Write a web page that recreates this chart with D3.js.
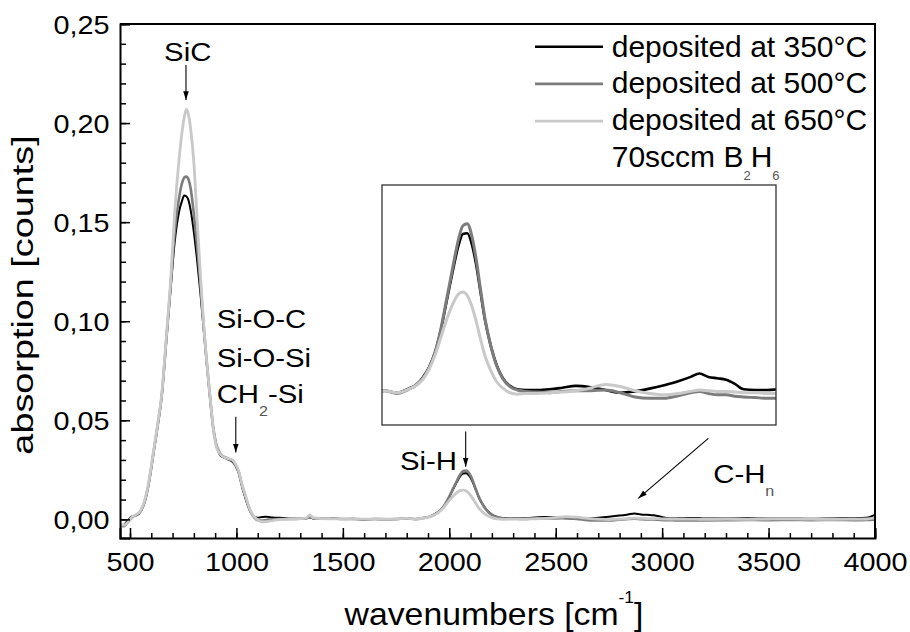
<!DOCTYPE html>
<html>
<head>
<meta charset="utf-8">
<script src="https://cdn.jsdelivr.net/npm/d3@7"></script>
<style>
html,body{margin:0;padding:0;background:#fff;}
svg{display:block;font-family:"Liberation Sans",Arial,Helvetica,sans-serif;}
</style>
</head>
<body>
<svg id="chart" width="910" height="632"></svg>
<script>
// ---------------- data ----------------
const wavenumbers = [
  453,470,490,510,530,550,570,590,
  610,630,650,670,690,710,730,745,755,765,775,785,
  800,815,830,845,860,875,890,905,920,935,950,965,980,995,1010,1025,1040,1055,1070,1085,
  1100,1120,1140,1170,1200,1250,1300,1330,1345,1360,1400,1450,1500,1550,1600,1650,1700,1750,1800,1840,1880,
  1910,1930,1950,1970,1990,2010,2030,2050,2065,2080,2095,2110,2125,2140,2160,2180,2200,2225,2250,
  2280,2320,2360,2400,2450,2500,2550,2600,2650,2700,2750,2800,2840,2870,2900,2930,2960,2990,3020,3060,3100,
  3150,3200,3300,3400,3500,3600,3700,3800,3900,3960,4000
];
const abs350 = [
  -0.0035,-0.003,-0.0005,0.0015,0.0020,0.0040,0.0090,0.0190,
  0.033,0.047,0.063,0.089,0.115,0.140,0.155,0.161,0.1635,0.163,0.161,0.156,
  0.145,0.131,0.115,0.097,0.079,0.062,0.047,0.0375,0.033,0.0315,0.0308,0.030,0.0292,0.0272,0.0235,0.017,0.0115,0.0065,0.003,0.0012,
  0.0008,0.0012,0.0013,0.0010,0.0008,0.0005,0.0003,0.0006,0.0010,0.0005,0.0004,0.0005,0.0002,0.0003,-0.0002,0.0002,0.0000,0.0001,0.0005,0.0002,0.0008,
  0.0015,0.0025,0.0039,0.0060,0.0093,0.0135,0.0177,0.0215,0.0232,0.0233,0.0218,0.0188,0.0148,0.0108,0.0070,0.0042,0.0024,0.0012,0.0007,
  0.0006,0.0006,0.0007,0.0009,0.0012,0.0010,0.0006,0.0002,0.0004,0.0008,0.0013,0.0019,0.0025,0.0030,0.0025,0.0023,0.0021,0.0015,0.0007,0.0006,0.0006,
  0.0007,0.0005,0.0004,0.0006,0.0004,0.0005,0.0003,0.0005,0.0006,0.0008,0.0022
];
const abs500 = [
  -0.003,-0.0035,-0.0015,0.0010,0.0022,0.0042,0.0095,0.0195,
  0.0335,0.0475,0.0635,0.090,0.117,0.145,0.162,0.170,0.1725,0.173,0.1715,0.167,
  0.154,0.138,0.120,0.099,0.080,0.063,0.047,0.038,0.034,0.032,0.0312,0.0305,0.0298,0.0278,0.0242,0.0178,0.0125,0.0072,0.0032,0.0008,
  -0.0004,-0.0006,-0.0003,0.0000,0.0002,0.0002,0.0003,0.0005,0.0012,0.0006,0.0003,0.0004,0.0002,0.0002,0.0000,0.0002,0.0001,0.0002,0.0005,0.0001,0.0007,
  0.0014,0.0024,0.0038,0.0060,0.0094,0.0138,0.0182,0.0224,0.0244,0.0247,0.0230,0.0196,0.0152,0.0110,0.0070,0.0041,0.0023,0.0011,0.0006,
  0.0004,0.0003,0.0002,0.0004,0.0005,0.0005,0.0006,0.0002,-0.0004,-0.0006,-0.0006,-0.0002,0.0002,0.0004,0.0001,-0.0001,-0.0001,-0.0003,-0.0004,-0.0005,-0.0006,
  -0.0006,-0.0005,-0.0004,-0.0003,-0.0004,-0.0003,-0.0004,-0.0003,-0.0004,-0.0003,0.0000
];
const abs650 = [
  -0.002,-0.003,-0.0015,0.0012,0.0025,0.0045,0.010,0.020,
  0.034,0.048,0.064,0.091,0.119,0.155,0.181,0.196,0.203,0.207,0.204,0.197,
  0.180,0.152,0.125,0.100,0.080,0.063,0.047,0.037,0.0335,0.0318,0.031,0.0305,0.030,0.028,0.0245,0.018,0.0128,0.0075,0.0035,0.0012,
  -0.0002,-0.0012,-0.0011,-0.0006,-0.0001,0.0002,0.0004,0.0008,0.0022,0.0009,0.0004,0.0003,0.0002,0.0003,0.0001,0.0002,0.0001,0.0002,0.0005,0.0002,0.0007,
  0.0014,0.0022,0.0036,0.0056,0.0082,0.0108,0.0130,0.0145,0.0148,0.0143,0.0128,0.0106,0.0080,0.0056,0.0034,0.0018,0.0009,0.0002,0.0000,
  0.0001,0.0001,0.0002,0.0003,0.0005,0.0009,0.0014,0.0011,0.0005,0.0001,-0.0001,0.0001,0.0004,0.0006,0.0005,0.0004,0.0004,0.0003,0.0002,0.0002,0.0001,
  0.0001,0.0000,0.0001,0.0000,0.0002,0.0003,0.0001,0.0000,0.0001,0.0002,0.0008
];
const seriesNames = ["deposited at 350°C", "deposited at 500°C", "deposited at 650°C"];
const seriesColors = ["#000000", "#7c7c7c", "#c9c9c9"];
const seriesWidths = [2, 2.6, 2.8];
const xTickValues = [500, 1000, 1500, 2000, 2500, 3000, 3500, 4000];
const yTickValues = [0, 0.05, 0.10, 0.15, 0.20, 0.25];
const annotations = [
  {pieces: [{t: "SiC"}], x: 771, y: 0.2315, anchor: "middle"},
  {pieces: [{t: "Si-O-C"}], x: 907, y: 0.0964, anchor: "start"},
  {pieces: [{t: "Si-O-Si"}], x: 907, y: 0.0771, anchor: "start"},
  {pieces: [{t: "CH"}, {t: "2", sub: true}, {t: "-Si", back: true}], x: 907, y: 0.0586, anchor: "start"},
  {pieces: [{t: "Si-H"}], x: 1768, y: 0.0249, anchor: "start"},
  {pieces: [{t: "C-H"}, {t: "n", sub: true}], x: 3240, y: 0.0182, anchor: "start"}
];
const arrows = [
  {x1: 763, y1: 0.2293, x2: 763, y2: 0.2117},
  {x1: 997, y1: 0.0518, x2: 997, y2: 0.0337},
  {x1: 2077, y1: 0.0443, x2: 2077, y2: 0.0266},
  {x1: 3217, y1: 0.0409, x2: 2888, y2: 0.0106}
];

// ---------------- layout ----------------
const svg = d3.select("#chart");
const L = 120, R = 875, T = 24, B = 538;
const x = d3.scaleLinear().domain([453, 4000]).range([L, R]);
const y = d3.scaleLinear().domain([-0.0094, 0.25]).range([B, T]);

const inset = {l: 382, r: 776, t: 185, b: 425};
const xi = d3.scaleLinear().domain([1790, 3130]).range([inset.l, inset.r]);
const yi = d3.scaleLinear().domain([-0.00447, 0.0303]).range([inset.b, inset.t]);

const defs = svg.append("defs");
defs.append("clipPath").attr("id", "clipMain").append("rect")
  .attr("x", L).attr("y", T).attr("width", R - L).attr("height", B - T);
defs.append("clipPath").attr("id", "clipInset").append("rect")
  .attr("x", inset.l).attr("y", inset.t).attr("width", inset.r - inset.l).attr("height", inset.b - inset.t);
defs.append("marker").attr("id", "arrowHead")
  .attr("markerUnits", "userSpaceOnUse").attr("viewBox", "0 -4 10 8")
  .attr("refX", 10).attr("refY", 0).attr("markerWidth", 9).attr("markerHeight", 7)
  .attr("orient", "auto")
  .append("path").attr("d", "M0,-3.2L10,0L0,3.2Z").attr("fill", "#000");

const series = [abs350, abs500, abs650].map((vals, i) => ({
  name: seriesNames[i], color: seriesColors[i], width: seriesWidths[i],
  points: wavenumbers.map((w, j) => [w, vals[j]])
}));

function addLabel(parent, px, py, fs, sx, anchor, pieces, rotate) {
  const t = parent.append("text")
    .attr("transform", `translate(${px},${py})` + (rotate ? ` rotate(${rotate})` : "") + ` scale(${sx},1)`)
    .attr("font-size", fs).attr("text-anchor", anchor).attr("fill", "#000");
  pieces.forEach(p => {
    const s = t.append("tspan").text(p.t);
    if (p.dy !== undefined) s.attr("dy", p.dy);
    if (p.fs) s.attr("font-size", p.fs);
    if (p.fill) s.attr("fill", p.fill);
  });
  return t;
}

// ---------------- main curves ----------------
const line = d3.line().x(d => x(d[0])).y(d => y(d[1])).curve(d3.curveMonotoneX);
const curves = svg.append("g").attr("clip-path", "url(#clipMain)");
series.forEach(s => {
  curves.append("path").attr("d", line(s.points))
    .attr("fill", "none").attr("stroke", s.color).attr("stroke-width", s.width)
    .attr("stroke-linejoin", "round");
});

// ---------------- axes ----------------
const xMinor = d3.range(5, 41).map(v => v * 100);
const yMinor = d3.range(0, 26).map(v => v / 100);

const gxMinor = svg.append("g").attr("transform", `translate(0,${B})`)
  .call(d3.axisBottom(x).tickValues(xMinor).tickSize(-5).tickFormat(""));
gxMinor.select(".domain").remove();
const gyMinor = svg.append("g").attr("transform", `translate(${L},0)`)
  .call(d3.axisLeft(y).tickValues(yMinor).tickSize(-6).tickFormat(""));
gyMinor.select(".domain").remove();

const gx = svg.append("g").attr("transform", `translate(0,${B})`)
  .call(d3.axisBottom(x).tickValues(xTickValues).tickSize(-10).tickPadding(15).tickFormat(d3.format("d")));
const gy = svg.append("g").attr("transform", `translate(${L},0)`)
  .call(d3.axisLeft(y).tickValues(yTickValues).tickSize(-10).tickPadding(10)
    .tickFormat(d => d3.format(".2f")(d).replace(".", ",")));

[gx, gy, gxMinor, gyMinor].forEach(g => {
  g.attr("font-size", null).attr("font-family", null);
  g.selectAll(".tick line").attr("stroke", "#000").attr("stroke-width", 1.5);
  g.selectAll(".domain").attr("stroke", "#000").attr("stroke-width", 2);
});
gx.selectAll("text").attr("font-size", 25.5).attr("fill", "#000").attr("transform", "scale(1.13,1)");
gy.selectAll("text").attr("font-size", 25.5).attr("fill", "#000")
  .attr("x", -10.5 / 1.13).attr("dy", "0.36em").attr("transform", "scale(1.13,1)");

// top and right frame
svg.append("path")
  .attr("d", `M${L},${T}H${R}V${B}`)
  .attr("fill", "none").attr("stroke", "#000").attr("stroke-width", 2);

// axis titles
addLabel(svg, (L + R) / 2 - 3.5, 625, 31, 1.09, "middle",
  [{t: "wavenumbers [cm"}, {t: "-1", fs: 16, dy: -21.7}, {t: "]", dy: 21.7}]);
addLabel(svg, 33.3, 295, 30, 1.26, "middle", [{t: "absorption [counts]"}], -90);

// ---------------- annotations ----------------
const ann = svg.append("g");
annotations.forEach(a => {
  const pieces = a.pieces.map(p => {
    if (p.sub) return {t: p.t, fs: 14, dy: 13, fill: "#555"};
    if (p.back) return {t: p.t, dy: -13};
    return {t: p.t};
  });
  addLabel(ann, x(a.x), y(a.y), 25.5, 1.15, a.anchor, pieces);
});
arrows.forEach(a => {
  ann.append("line")
    .attr("x1", x(a.x1)).attr("y1", y(a.y1)).attr("x2", x(a.x2)).attr("y2", y(a.y2))
    .attr("stroke", "#000").attr("stroke-width", 1.1).attr("marker-end", "url(#arrowHead)");
});

// ---------------- legend ----------------
const leg = svg.append("g");
series.forEach((s, i) => {
  const cy = 46.7 + i * 37.2;
  leg.append("line").attr("x1", 535).attr("x2", 603).attr("y1", cy).attr("y2", cy)
    .attr("stroke", s.color).attr("stroke-width", i === 0 ? 2.4 : 2.8);
  addLabel(leg, 611.7, 56.7 + i * 36.7, 30, 1.0, "start", [{t: s.name}]);
});
addLabel(leg, 611.7, 166.7, 30, 1.0, "start", [
  {t: "70sccm B"}, {t: "2", fs: 13, dy: 13, fill: "#555"}, {t: "H", dy: -13}, {t: "6", fs: 13, dy: 13, fill: "#555"}
]);

// ---------------- inset ----------------
const gi = svg.append("g");
gi.append("rect").attr("x", inset.l).attr("y", inset.t)
  .attr("width", inset.r - inset.l).attr("height", inset.b - inset.t)
  .attr("fill", "#fff").attr("stroke", "none");
const lineInset = d3.line().x(d => xi(d[0])).y(d => yi(d[1])).curve(d3.curveMonotoneX);
const gic = gi.append("g").attr("clip-path", "url(#clipInset)");
series.forEach((s, i) => {
  gic.append("path").attr("d", lineInset(s.points))
    .attr("fill", "none").attr("stroke", s.color).attr("stroke-width", i === 0 ? 2.6 : 3)
    .attr("stroke-linejoin", "round");
});
gi.append("rect").attr("x", inset.l).attr("y", inset.t)
  .attr("width", inset.r - inset.l).attr("height", inset.b - inset.t)
  .attr("fill", "none").attr("stroke", "#333").attr("stroke-width", 1.3);
</script>
</body>
</html>
